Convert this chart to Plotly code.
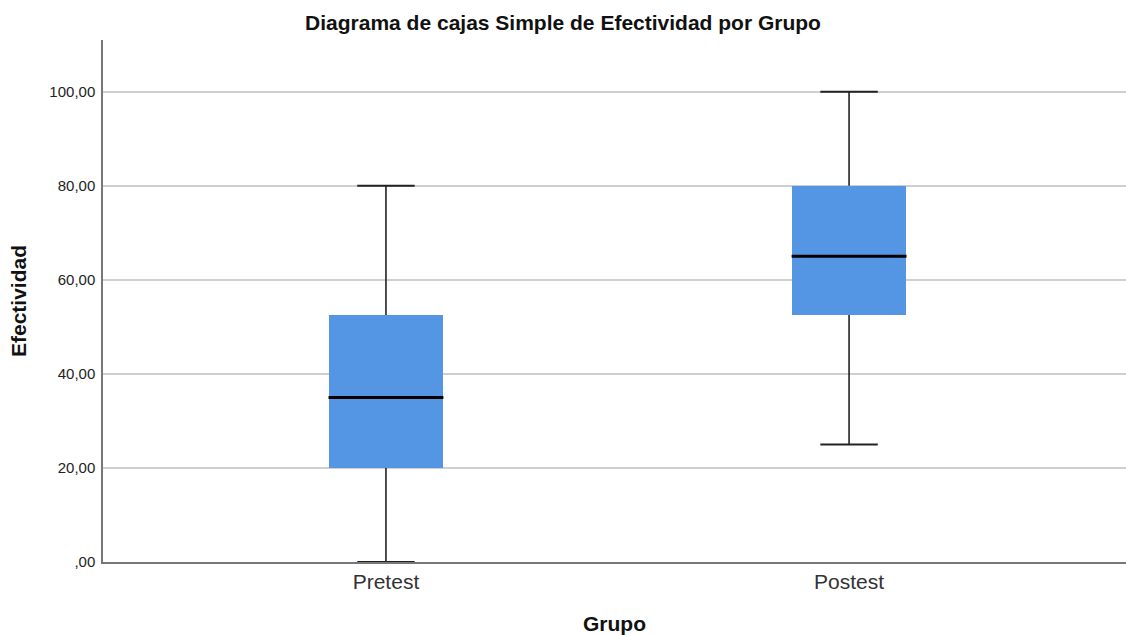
import plotly.graph_objects as go

groups = ["Pretest", "Postest"]
mins = [0, 25]
q1s = [20, 52.5]
medians = [35, 65]
q3s = [52.5, 80]
maxs = [80, 100]

ytick_vals = [0, 20, 40, 60, 80, 100]
ytick_text = [",00", "20,00", "40,00", "60,00", "80,00", "100,00"]

box_w = 0.248
cap_w = box_w / 2
fill = "#5596E4"
wcol = "#222222"

fig = go.Figure()
xs = list(range(len(groups)))
fig.add_trace(go.Bar(
    x=xs, base=q1s, y=[b - a for a, b in zip(q1s, q3s)],
    width=box_w, marker=dict(color=fill, line=dict(width=0)),
    hoverinfo="skip", showlegend=False))

wx, wy, cx, cy, mx, my = [], [], [], [], [], []
for i in xs:
    wx += [i, i, None, i, i, None]
    wy += [q3s[i], maxs[i], None, q1s[i], mins[i], None]
    cx += [i - cap_w / 2, i + cap_w / 2, None, i - cap_w / 2, i + cap_w / 2, None]
    cy += [maxs[i], maxs[i], None, mins[i], mins[i], None]
    mx += [i - box_w / 2, i + box_w / 2, None]
    my += [medians[i], medians[i], None]

fig.add_trace(go.Scatter(x=wx, y=wy, mode="lines", line=dict(color=wcol, width=1.6),
                         showlegend=False, hoverinfo="skip"))
fig.add_trace(go.Scatter(x=cx, y=cy, mode="lines", line=dict(color=wcol, width=2),
                         showlegend=False, hoverinfo="skip"))
fig.add_trace(go.Scatter(x=mx, y=my, mode="lines", line=dict(color="#000000", width=3),
                         showlegend=False, hoverinfo="skip"))

font = "Arial, Liberation Sans, sans-serif"
fig.update_layout(
    width=1126, height=635,
    margin=dict(l=103, r=0, t=40, b=73),
    paper_bgcolor="white", plot_bgcolor="white",
    font=dict(family=font, color="#222222"),
    title=dict(text="<b>Diagrama de cajas Simple de Efectividad por Grupo</b>",
               x=0.5, xanchor="center", y=0.965, yanchor="middle",
               font=dict(size=21, color="#111111")),
    bargap=0,
)
fig.update_xaxes(
    range=[-0.611, 1.598], tickvals=xs, ticktext=groups,
    tickfont=dict(size=21, color="#333333"), ticks="", ticklabelstandoff=0,
    showgrid=False, zeroline=False, showline=True, linecolor="#777777", linewidth=1.5,
    title=dict(text="<b>Grupo</b>", font=dict(size=21, color="#111111"), standoff=24),
)
fig.update_yaxes(
    range=[0, 111], tickvals=ytick_vals, ticktext=ytick_text,
    tickfont=dict(size=15, color="#222222"), ticks="", ticklabelstandoff=3,
    showgrid=True, gridcolor="#CFCFCF", gridwidth=1.5, zeroline=False,
    showline=True, linecolor="#777777", linewidth=1.5,
    title=dict(text="<b>Efectividad</b>", font=dict(size=21, color="#111111"), standoff=17),
)
fig.write_html("out.html", config={"displayModeBar": False},
               post_script="document.body.style.margin='0';")
